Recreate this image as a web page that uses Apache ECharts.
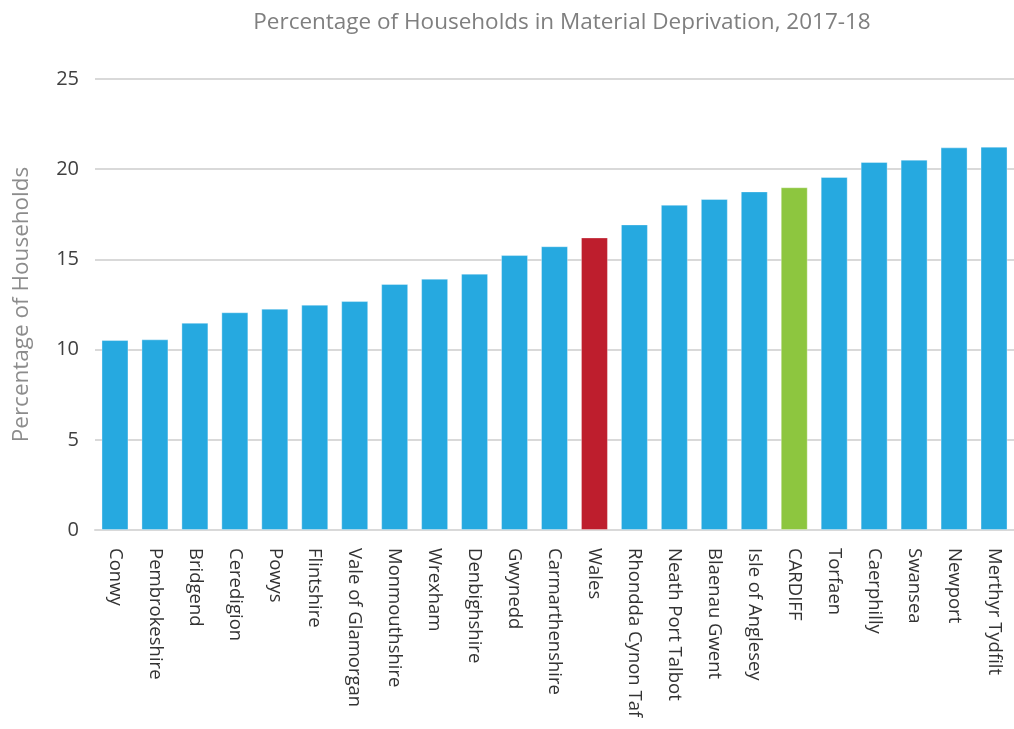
<!DOCTYPE html>
<html>
<head>
<meta charset="utf-8">
<script src="https://cdn.jsdelivr.net/npm/echarts@6/dist/echarts.min.js"></script>
<style>html,body{margin:0;padding:0;background:#fff}#c{width:1014px;height:729px}</style>
</head>
<body>
<div id="c"></div>
<script>
var categories = ["Conwy","Pembrokeshire","Bridgend","Ceredigion","Powys","Flintshire","Vale of Glamorgan","Monmouthshire","Wrexham","Denbighshire","Gwynedd","Carmarthenshire","Wales","Rhondda Cynon Taf","Neath Port Talbot","Blaenau Gwent","Isle of Anglesey","CARDIFF","Torfaen","Caerphilly","Swansea","Newport","Merthyr Tydfilt"];
var values = [10.53,10.57,11.49,12.07,12.27,12.49,12.69,13.64,13.93,14.21,15.24,15.73,16.22,16.94,18.03,18.35,18.77,19.0,19.57,20.4,20.53,21.21,21.25];
var yTicks = [0,5,10,15,20,25];
var highlight = {"Wales":"#be1e2d","CARDIFF":"#8dc63f"};
var baseColor = "#26a9e0";

var chart = echarts.init(document.getElementById('c'));
chart.setOption({
  animation:false,
  backgroundColor:'#fff',
  title:{
    text:'Percentage of Households in Material Deprivation, 2017-18',
    left:557, top:6, textAlign:'center',
    textStyle:{color:'#7f7f7f', fontSize:22.5, fontWeight:'normal', fontFamily:'Open Sans'}
  },
  grid:{left:95, right:-6, top:79, bottom:199, containLabel:false},
  xAxis:{
    type:'category', data:categories,
    axisLine:{lineStyle:{color:'#d9d9d9', width:2}},
    axisTick:{show:false},
    axisLabel:{rotate:-90, interval:0, margin:18, color:'#333', fontSize:18.5, fontFamily:'Open Sans'}
  },
  yAxis:{
    type:'value', min:yTicks[0], max:yTicks[yTicks.length-1], interval:5,
    name:'Percentage of Households', nameLocation:'middle', nameGap:62,
    nameTextStyle:{color:'#8c8c8c', fontSize:22.5, fontFamily:'Open Sans'},
    axisLine:{show:false}, axisTick:{show:false},
    axisLabel:{color:'#404040', fontSize:20, fontFamily:'Open Sans', margin:16},
    splitLine:{lineStyle:{color:'#d9d9d9', width:2}}
  },
  series:[{
    type:'bar',
    data:categories.map(function(c,i){return {value:values[i], itemStyle:{color:highlight[c]||baseColor}};}),
    barWidth:27,
    itemStyle:{borderColor:'rgba(255,255,255,0.35)', borderWidth:1}
  }]
});
</script>
</body>
</html>
